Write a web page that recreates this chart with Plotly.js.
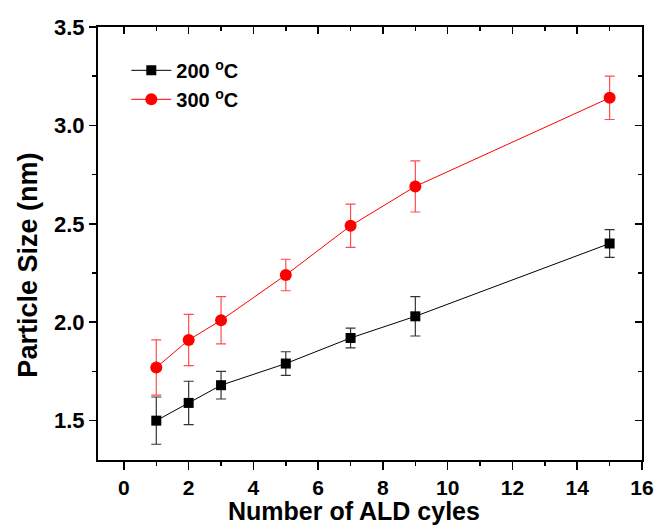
<!DOCTYPE html>
<html>
<head>
<meta charset="utf-8">
<script src="https://cdn.plot.ly/plotly-3.0.1.min.js"></script>
<style>html,body{margin:0;padding:0;background:#fff;}#chart{width:657px;height:525px;}</style>
</head>
<body>
<div id="chart"></div>
<script>
const cycles = [1, 2, 3, 5, 7, 9, 15];
const size200 = [1.50, 1.59, 1.68, 1.79, 1.92, 2.03, 2.40];
const err200 = [0.12, 0.11, 0.07, 0.06, 0.05, 0.10, 0.07];
const size300 = [1.77, 1.91, 2.01, 2.24, 2.49, 2.69, 3.14];
const err300 = [0.14, 0.13, 0.12, 0.08, 0.11, 0.13, 0.11];
const seriesNames = ['200 <sup>o</sup>C', '300 <sup>o</sup>C'];
const xTitle = 'Number of ALD cyles';
const yTitle = 'Particle Size (nm)';

const FONT = 'Liberation Sans, Arial, sans-serif';

const traces = [
  {
    x: cycles, y: size200, name: seriesNames[0], type: 'scatter', mode: 'lines+markers',
    line: {color: '#000000', width: 1},
    marker: {symbol: 'square', size: 10, color: '#000000'},
    error_y: {type: 'data', array: err200, visible: true, color: 'rgba(0,0,0,0.8)', thickness: 1.2, width: 5}
  },
  {
    x: cycles, y: size300, name: seriesNames[1], type: 'scatter', mode: 'lines+markers',
    line: {color: '#ff0000', width: 1},
    marker: {symbol: 'circle', size: 12, color: '#ff0000'},
    error_y: {type: 'data', array: err300, visible: true, color: 'rgba(255,0,0,0.7)', thickness: 1.2, width: 5}
  }
];

const layout = {
  width: 657, height: 525,
  margin: {l: 98, r: 15, t: 27, b: 65},
  paper_bgcolor: '#ffffff', plot_bgcolor: '#ffffff',
  font: {family: FONT, color: '#000000'},
  showlegend: true,
  legend: {x: 0.052, y: 0.945, xanchor: 'left', yanchor: 'top',
           font: {family: FONT, size: 20, weight: 'bold'}, bgcolor: 'rgba(0,0,0,0)',
           tracegroupgap: 0, itemwidth: 40},
  xaxis: {
    range: [-0.8, 16], dtick: 2, tick0: 0, showgrid: false, zeroline: false,
    showline: true, linecolor: '#000', linewidth: 2,
    ticks: 'outside', ticklen: 8, tickwidth: 1.5, tickcolor: '#000',
    minor: {ticks: 'outside', dtick: 1, tick0: 0, ticklen: 4, tickwidth: 1.5, tickcolor: '#000'},
    tickfont: {family: FONT, size: 21, weight: 'bold'}
  },
  xaxis2: {
    overlaying: 'x', side: 'top', matches: 'x', range: [-0.8, 16], dtick: 2, tick0: 0,
    showgrid: false, zeroline: false, showline: true, linecolor: '#000', linewidth: 2,
    ticks: 'inside', ticklen: 7, tickwidth: 1.5, tickcolor: '#000', showticklabels: false,
    minor: {ticks: 'inside', dtick: 1, tick0: 0, ticklen: 4, tickwidth: 1.5, tickcolor: '#000'}
  },
  yaxis: {
    range: [1.3, 3.5], dtick: 0.5, tick0: 1.5, showgrid: false, zeroline: false,
    showline: true, linecolor: '#000', linewidth: 2,
    ticks: 'outside', ticklen: 7, tickwidth: 1.5, tickcolor: '#000',
    minor: {ticks: 'outside', dtick: 0.25, tick0: 1.5, ticklen: 4, tickwidth: 1.5, tickcolor: '#000'},
    tickformat: '.1f',
    tickfont: {family: FONT, size: 22, weight: 'bold'}
  },
  yaxis2: {
    overlaying: 'y', side: 'right', matches: 'y', range: [1.3, 3.5], dtick: 0.5, tick0: 1.5,
    showgrid: false, zeroline: false, showline: true, linecolor: '#000', linewidth: 2,
    ticks: 'inside', ticklen: 7, tickwidth: 1.5, tickcolor: '#000', showticklabels: false,
    minor: {ticks: 'inside', dtick: 0.25, tick0: 1.5, ticklen: 4, tickwidth: 1.5, tickcolor: '#000'}
  },
  annotations: [
    {text: xTitle, xref: 'paper', yref: 'paper', x: 0.4706, y: -0.117, xanchor: 'center', yanchor: 'middle',
     showarrow: false, font: {family: FONT, size: 25, weight: 'bold', color: '#000'}},
    {text: yTitle, xref: 'paper', yref: 'paper', x: -0.1278, y: 0.450, xanchor: 'center', yanchor: 'middle',
     textangle: -90, showarrow: false, font: {family: FONT, size: 27, weight: 'bold', color: '#000'}}
  ]
};

// invisible trace so the mirror axes are drawn
traces.push({x: [cycles[0]], y: [size200[0]], xaxis: 'x2', yaxis: 'y2', mode: 'markers',
  marker: {opacity: 0}, showlegend: false, hoverinfo: 'skip'});

Plotly.newPlot('chart', traces, layout, {displayModeBar: false, staticPlot: true});
</script>
</body>
</html>
